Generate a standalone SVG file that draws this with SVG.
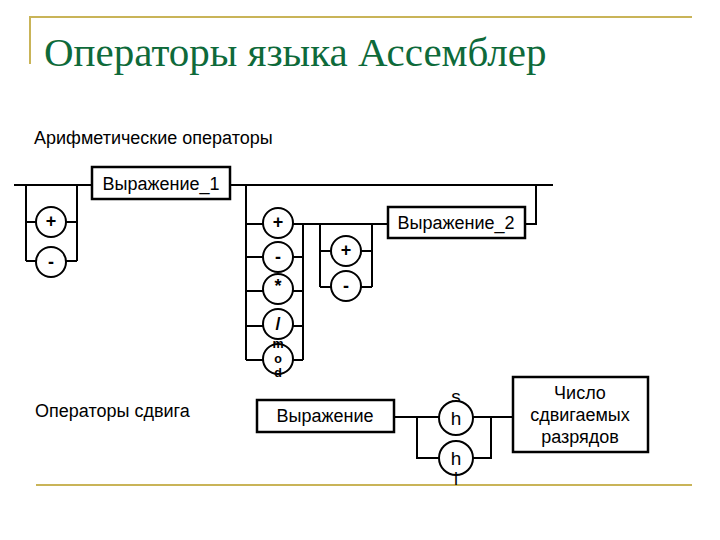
<svg xmlns="http://www.w3.org/2000/svg" width="720" height="540" viewBox="0 0 720 540">
<style>
.gold{stroke:#c9b458;stroke-width:2;fill:none}
.ln{stroke:#000;stroke-width:2;fill:none}
.box{fill:#fff;stroke:#000;stroke-width:2.5}
.cir{fill:#fff;stroke:#000;stroke-width:2}
.t{font-family:"Liberation Sans",Arial,sans-serif;font-size:18px;fill:#000}
.op{font-family:"Liberation Sans",Arial,sans-serif;font-size:18px;font-weight:bold;fill:#000;text-anchor:middle;dominant-baseline:central}
.sm{font-family:"Liberation Sans",Arial,sans-serif;font-size:12.5px;font-weight:bold;fill:#000;text-anchor:middle;dominant-baseline:central}
.h{font-family:"Liberation Sans",Arial,sans-serif;font-size:19px;fill:#000;text-anchor:middle;dominant-baseline:central}
.bt{font-family:"Liberation Sans",Arial,sans-serif;font-size:18px;fill:#000;text-anchor:middle}
</style>
<rect width="720" height="540" fill="#fff"/>
<g id="frame">
<path class="gold" d="M30,17 H692 M30,16 V64"/>
<path class="gold" d="M36,485 H692"/>
</g>
<text id="title" x="44" y="66" font-family="'Liberation Serif','Times New Roman',serif" font-size="41" fill="#0e6a3a">Операторы языка Ассемблер</text>
<text id="label1" class="t" x="34" y="144">Арифметические операторы</text>
<text id="label2" class="t" x="35" y="417">Операторы сдвига</text>
<g id="connectors">
<path class="ln" d="M14,185 H92 M230,185 H553"/>
<path class="ln" d="M26,185 V261 M77,185 V261 M26,222 H77 M26,261 H77"/>
<path class="ln" d="M246,185 V360 M303,224 V360 M246,224 H388 M246,257 H303 M246,291 H303 M246,326 H303 M246,360 H303"/>
<path class="ln" d="M320,224 V287 M372,224 V287 M320,251 H372 M320,287 H372"/>
<path class="ln" d="M525,224 H536 V185"/>
<path class="ln" d="M394,417 H513 M417,417 V458 H491 V417"/>
</g>
<g id="expr1"><rect class="box" x="92" y="167" width="138" height="32"/><text class="bt" x="161" y="190">Выражение_1</text></g>
<g id="plus1"><circle class="cir" cx="51" cy="222" r="15"/><text class="op" x="51" y="221">+</text></g>
<g id="minus1"><circle class="cir" cx="51" cy="262" r="15"/><text class="op" x="51" y="262">-</text></g>
<g id="plus2"><circle class="cir" cx="278" cy="223" r="15"/><text class="op" x="278" y="222">+</text></g>
<g id="minus2"><circle class="cir" cx="278" cy="257" r="15"/><text class="op" x="278" y="257">-</text></g>
<g id="mul"><circle class="cir" cx="278" cy="289" r="15"/><text class="op" x="278" y="286">*</text></g>
<g id="div"><circle class="cir" cx="278" cy="324" r="15"/><text class="op" x="278" y="324" font-size="20">/</text></g>
<g id="mod"><circle class="cir" cx="278" cy="359" r="15"/><text class="sm" x="278" y="344">m</text><text class="sm" x="278" y="358.5">o</text><text class="sm" x="278" y="373">d</text></g>
<g id="plus3"><circle class="cir" cx="346" cy="251" r="15"/><text class="op" x="346" y="250">+</text></g>
<g id="minus3"><circle class="cir" cx="346" cy="286" r="15"/><text class="op" x="346" y="286">-</text></g>
<g id="expr2"><rect class="box" x="388" y="207" width="137" height="31"/><text class="bt" x="456" y="229">Выражение_2</text></g>
<g id="expr"><rect class="box" x="257" y="400" width="137" height="32"/><text class="bt" x="325" y="422">Выражение</text></g>
<g id="shl"><text class="h" x="456" y="396" font-size="17">s</text><circle class="cir" cx="456" cy="418" r="17"/><text class="h" x="456" y="418">h</text></g>
<g id="shr"><circle class="cir" cx="456" cy="458" r="17"/><text class="h" x="456" y="458">h</text><text class="t" x="456" y="485" text-anchor="middle">l</text></g>
<g id="count"><rect class="box" x="513" y="377" width="135" height="75"/><text class="bt" x="580" y="399">Число</text><text class="bt" x="580" y="421">сдвигаемых</text><text class="bt" x="580" y="443">разрядов</text></g>
</svg>
